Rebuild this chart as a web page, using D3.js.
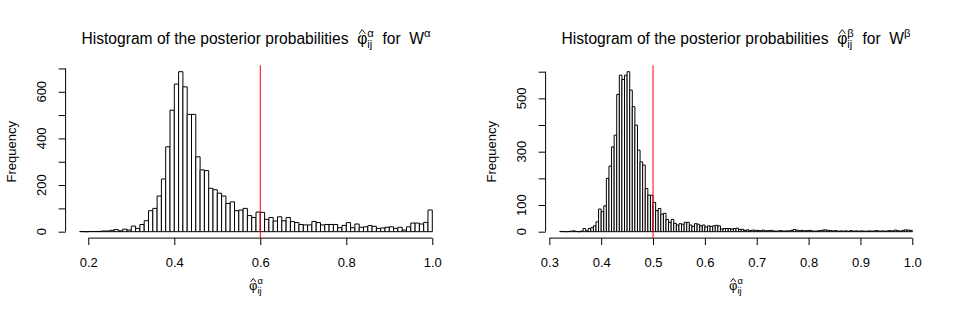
<!DOCTYPE html>
<html>
<head>
<meta charset="utf-8">
<script src="https://cdn.jsdelivr.net/npm/d3@7"></script>
<style>
  body { margin: 0; background: #fff; }
  svg { display: block; font-family: "Liberation Sans", Arial, Helvetica, sans-serif; }
</style>
</head>
<body>
<svg width="960" height="320"></svg>
<script>
// histogram counts
const leftStart = 0.18;
const leftBinWidth = 0.01;
const leftCounts = [
  1, 0, 1, 1, 1, 3, 3, 6, 9, 4,
  11, 7, 24, 14, 31, 47, 90, 100, 153, 226,
  364, 521, 633, 686, 621, 503, 503, 321, 265, 262,
  186, 180, 165, 153, 121, 128, 90, 93, 100, 69,
  61, 84,
  83, 53, 61, 46, 64, 47, 61, 43, 39, 31,
  29, 29, 44, 39, 29, 31, 31, 31, 17, 27,
  39, 17, 33, 19, 21, 26, 23, 14, 16, 19,
  21, 14, 19, 7, 21, 37, 37, 33, 40, 93
];

const rightStart = 0.32;
const rightBinWidth = 0.005;
const rightCounts = [
  1, 1, 0, 1, 2, 3, 1, 0, 2, 12,
  3, 12, 15, 22, 37, 85, 75, 97, 200, 246,
  318, 362, 515, 587, 571, 587, 600, 531, 469, 400,
  306, 262, 250, 162, 137, 137, 110, 79, 87, 66,
  69, 46, 35, 46, 31, 25, 30, 28, 35, 35,
  25, 20, 30, 28, 22, 25, 18, 22, 20, 22,
  24, 22, 10, 12, 12, 12, 10, 12, 13, 8,
  9, 5, 7, 4, 6, 5,
  5, 4, 6, 3, 4, 5, 3, 2, 3, 4,
  2, 3, 3, 5, 8, 6, 4, 5, 3, 4,
  5, 3, 2, 3, 4, 6, 7, 5, 4, 3,
  4, 2, 3, 2, 3, 2, 4, 2, 3, 2,
  3, 2, 2, 3, 2, 3, 4, 2, 3, 2,
  3, 4, 3, 6, 4, 2, 5, 7, 6, 5
];

const leftXTicks = [0.2, 0.4, 0.6, 0.8, 1.0];
const rightXTicks = [0.3, 0.4, 0.5, 0.6, 0.7, 0.8, 0.9, 1.0];
const leftYTicks = [0, 100, 200, 300, 400, 500, 600, 700];
const leftYLabels = [0, 200, 400, 600];
const rightYTicks = [0, 100, 200, 300, 400, 500, 600];
const rightYLabels = [0, 100, 300, 500];
const leftCutoff = 0.6;
const rightCutoff = 0.5;

const svg = d3.select('svg');
const FONT = '"Liberation Sans", Arial, Helvetica, sans-serif';
const LABEL_SIZE = 13;
const TITLE_SIZE = 15.6;

// lays out a small plotmath-like label: text, phi with hat, stacked sub/sup
const mathLabel = (parent, cx, baseY, parts) => {
  const g = parent.append('g');
  let x = 0, subX = 0;
  parts.forEach(p => {
    const startX = p.stack ? subX : x;
    const t = g.append('text')
      .attr('x', startX)
      .attr('y', baseY + (p.shift || 0) * p.size)
      .attr('font-size', p.size)
      .attr('fill', '#000')
      .style('white-space', 'pre')
      .text(p.text);
    const w = t.node().getComputedTextLength();
    if (p.hat) {
      const hx = startX + w / 2;
      const hb = baseY - 0.62 * p.size;
      const hw = 0.2 * p.size, hh = 0.27 * p.size;
      g.append('path')
        .attr('d', `M${hx - hw},${hb}L${hx},${hb - hh}L${hx + hw},${hb}`)
        .attr('fill', 'none')
        .attr('stroke', '#000')
        .attr('stroke-width', 0.9);
    }
    if (p.sub) subX = startX;
    x = Math.max(x, startX + w);
  });
  g.attr('transform', `translate(${cx - x / 2},0)`);
  return g;
};

const phiParts = (size, greek) => [
  { text: '\u03c6', size: size, hat: true },
  { text: 'ij', size: size * 0.72, shift: 0.42, sub: true },
  { text: greek, size: size * 0.72, shift: -0.62, stack: true }
];

const drawPanel = opt => {
  const g = svg.append('g');
  const lo = opt.start;
  const hi = opt.start + opt.counts.length * opt.binWidth;
  const pad = 0.04 * (hi - lo);
  const xScale = d3.scaleLinear()
    .domain([lo - pad, hi + pad])
    .range([opt.left, opt.right]);
  const maxY = d3.max(opt.counts);
  const yScale = d3.scaleLinear()
    .domain([-0.04 * maxY, 1.04 * maxY])
    .range([opt.bottom, opt.top]);

  // bars
  g.append('g').selectAll('path').data(opt.counts)
    .enter().append('path')
      .attr('d', (d, i) => {
        const x0 = xScale(lo + i * opt.binWidth);
        const x1 = xScale(lo + (i + 1) * opt.binWidth);
        const y0 = yScale(0), y1 = yScale(d);
        return `M${x0},${y0}V${y1}H${x1}V${y0}Z`;
      })
      .attr('fill', '#fff')
      .attr('stroke', '#000')
      .attr('stroke-width', 1);

  // x axis
  const xAxis = d3.axisBottom(xScale)
    .tickValues(opt.xTicks)
    .tickSize(7)
    .tickPadding(13)
    .tickFormat(d3.format('.1f'));
  const xAxisG = g.append('g')
    .attr('transform', `translate(0,${opt.bottom})`)
    .call(xAxis)
    .attr('font-size', LABEL_SIZE)
    .attr('font-family', FONT);
  xAxisG.select('.domain').remove();
  xAxisG.append('line')
    .attr('x1', xScale(opt.xTicks[0]))
    .attr('x2', xScale(opt.xTicks[opt.xTicks.length - 1]))
    .attr('stroke', '#000');

  // y axis
  const yAxis = d3.axisLeft(yScale)
    .tickValues(opt.yTicks)
    .tickSize(7)
    .tickFormat('');
  const yAxisG = g.append('g')
    .attr('transform', `translate(${opt.left},0)`)
    .call(yAxis);
  yAxisG.select('.domain').remove();
  yAxisG.append('line')
    .attr('y1', yScale(opt.yTicks[0]))
    .attr('y2', yScale(opt.yTicks[opt.yTicks.length - 1]))
    .attr('stroke', '#000');
  g.append('g').selectAll('text').data(opt.yLabels)
    .enter().append('text')
      .attr('transform', d => `translate(${opt.left - 20},${yScale(d)}) rotate(-90)`)
      .attr('text-anchor', 'middle')
      .attr('font-size', LABEL_SIZE)
      .attr('fill', '#000')
      .text(d => d);

  g.append('text')
    .attr('transform', `translate(${opt.left - 49.5},${(opt.top + opt.bottom) / 2}) rotate(-90)`)
    .attr('text-anchor', 'middle')
    .attr('font-size', LABEL_SIZE)
    .attr('fill', '#000')
    .text('Frequency');

  // cutoff line
  g.append('line')
    .attr('x1', xScale(opt.cutoff))
    .attr('x2', xScale(opt.cutoff))
    .attr('y1', opt.top)
    .attr('y2', opt.bottom)
    .attr('stroke', '#ff0000');

  const cx = (opt.left + opt.right) / 2;
  mathLabel(g, cx, 43.5, [
    { text: 'Histogram of the posterior probabilities  ', size: TITLE_SIZE },
    ...phiParts(TITLE_SIZE, opt.greek),
    { text: '  for  W', size: TITLE_SIZE },
    { text: opt.greek, size: TITLE_SIZE * 0.72, shift: -0.55 }
  ]);
  mathLabel(g, cx, 290, phiParts(LABEL_SIZE, '\u03b1'));
};

drawPanel({
  counts: leftCounts, start: leftStart, binWidth: leftBinWidth,
  xTicks: leftXTicks, yTicks: leftYTicks, yLabels: leftYLabels,
  cutoff: leftCutoff, greek: '\u03b1',
  left: 65.6, right: 446.4, top: 65.3, bottom: 238.1
});

drawPanel({
  counts: rightCounts, start: rightStart, binWidth: rightBinWidth,
  xTicks: rightXTicks, yTicks: rightYTicks, yLabels: rightYLabels,
  cutoff: rightCutoff, greek: '\u03b2',
  left: 545.6, right: 926.4, top: 65.3, bottom: 238.1
});
</script>
</body>
</html>
